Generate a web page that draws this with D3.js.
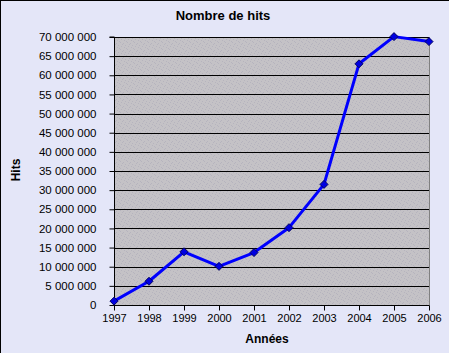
<!DOCTYPE html>
<html>
<head>
<meta charset="utf-8">
<script src="https://cdn.jsdelivr.net/npm/d3@7"></script>
<style>
html,body{margin:0;padding:0;background:#ffffff;}
svg{display:block;}
text{font-family:"Liberation Sans",Arial,sans-serif;fill:#000;}
</style>
</head>
<body>
<svg id="chart" width="452" height="356"></svg>
<script>
const years = [1997, 1998, 1999, 2000, 2001, 2002, 2003, 2004, 2005, 2006];
const hits = [1000000, 6200000, 13900000, 10100000, 13700000, 20200000, 31500000, 63000000, 70100000, 68800000];
const yTicks = [0, 5000000, 10000000, 15000000, 20000000, 25000000, 30000000, 35000000, 40000000, 45000000, 50000000, 55000000, 60000000, 65000000, 70000000];
const title = "Nombre de hits";
const xTitle = "Années";
const yTitle = "Hits";

const svg = d3.select("#chart");
const W = 449, H = 353;
const plot = {l: 114, r: 429, t: 37, b: 305};

// chart background
svg.append("rect").attr("x",0).attr("y",0).attr("width",W).attr("height",H).attr("fill","#E4E6F8");
svg.append("line").attr("x1",0.5).attr("x2",0.5).attr("y1",0).attr("y2",H).attr("stroke","#000");
svg.append("line").attr("x1",0).attr("x2",W).attr("y1",0.5).attr("y2",0.5).attr("stroke","#000");

// speckle pattern for plot area
const defs = svg.append("defs");
const pat = defs.append("pattern").attr("id","spk").attr("width",7).attr("height",7).attr("patternUnits","userSpaceOnUse");
pat.append("rect").attr("width",7).attr("height",7).attr("fill","#C4C2C6");
[[1,0],[4,1],[6,3],[2,4],[0,6],[5,5],[3,2]].forEach(([px,py])=>{
  pat.append("rect").attr("x",px).attr("y",py).attr("width",1).attr("height",1).attr("fill","#B6B4BE");
});

const x = d3.scalePoint().domain(years).range([plot.l, plot.r]);
const y = d3.scaleLinear().domain([0, 70000000]).range([plot.b, plot.t]);

svg.append("rect").attr("x",plot.l).attr("y",plot.t).attr("width",plot.r-plot.l).attr("height",plot.b-plot.t).attr("fill","url(#spk)");

// gridlines
svg.append("g").selectAll("line").data(yTicks.filter(d=>d>0)).join("line")
  .attr("x1",plot.l).attr("x2",plot.r)
  .attr("y1",d=>Math.round(y(d))+0.5).attr("y2",d=>Math.round(y(d))+0.5)
  .attr("stroke","#000").attr("stroke-width",1);

// right border
svg.append("line").attr("x1",plot.r+0.5).attr("x2",plot.r+0.5).attr("y1",plot.t).attr("y2",plot.b).attr("stroke","#808080");

const fmt = d => d3.format(",")(d).replace(/,/g," ");

// y axis
const yAxis = d3.axisLeft(y).tickValues(yTicks).tickFormat(fmt).tickSize(5).tickPadding(13);
const gy = svg.append("g").attr("transform",`translate(${plot.l+0.5},0)`).call(yAxis);
gy.selectAll("text").style("font-size","11.5px").attr("fill","#000");
gy.selectAll("line,path").attr("stroke","#000");
gy.select(".domain").attr("d",`M-5,${plot.t}H0V${plot.b+0.5}`);

// x axis
const xAxis = d3.axisBottom(x).tickSize(5).tickPadding(4);
const gx = svg.append("g").attr("transform",`translate(0,${plot.b+0.5})`).call(xAxis);
gx.selectAll("text").style("font-size","11px").attr("fill","#000");
gx.selectAll("line,path").attr("stroke","#000");
gx.select(".domain").attr("d",`M${plot.l},0H${plot.r+0.5}`);

// line
const line = d3.line().x((d,i)=>x(years[i])).y(d=>y(d));
svg.append("path").datum(hits).attr("d",line).attr("fill","none").attr("stroke","#0000FF").attr("stroke-width",3).attr("stroke-linejoin","round");

// markers
svg.append("g").selectAll("path").data(hits).join("path")
  .attr("transform",(d,i)=>`translate(${x(years[i])},${y(d)})`)
  .attr("d","M0,-4L4,0L0,4L-4,0Z")
  .attr("fill","#0000E0").attr("stroke","#000060").attr("stroke-width",1);

// titles
svg.append("text").attr("x",223).attr("y",20).attr("text-anchor","middle").style("font-size","13px").style("font-weight","bold").text(title);
svg.append("text").attr("x",267).attr("y",343).attr("text-anchor","middle").style("font-size","12px").style("font-weight","bold").text(xTitle);
svg.append("text").attr("transform","translate(20,170) rotate(-90)").attr("text-anchor","middle").style("font-size","12px").style("font-weight","bold").text(yTitle);
</script>
</body>
</html>
